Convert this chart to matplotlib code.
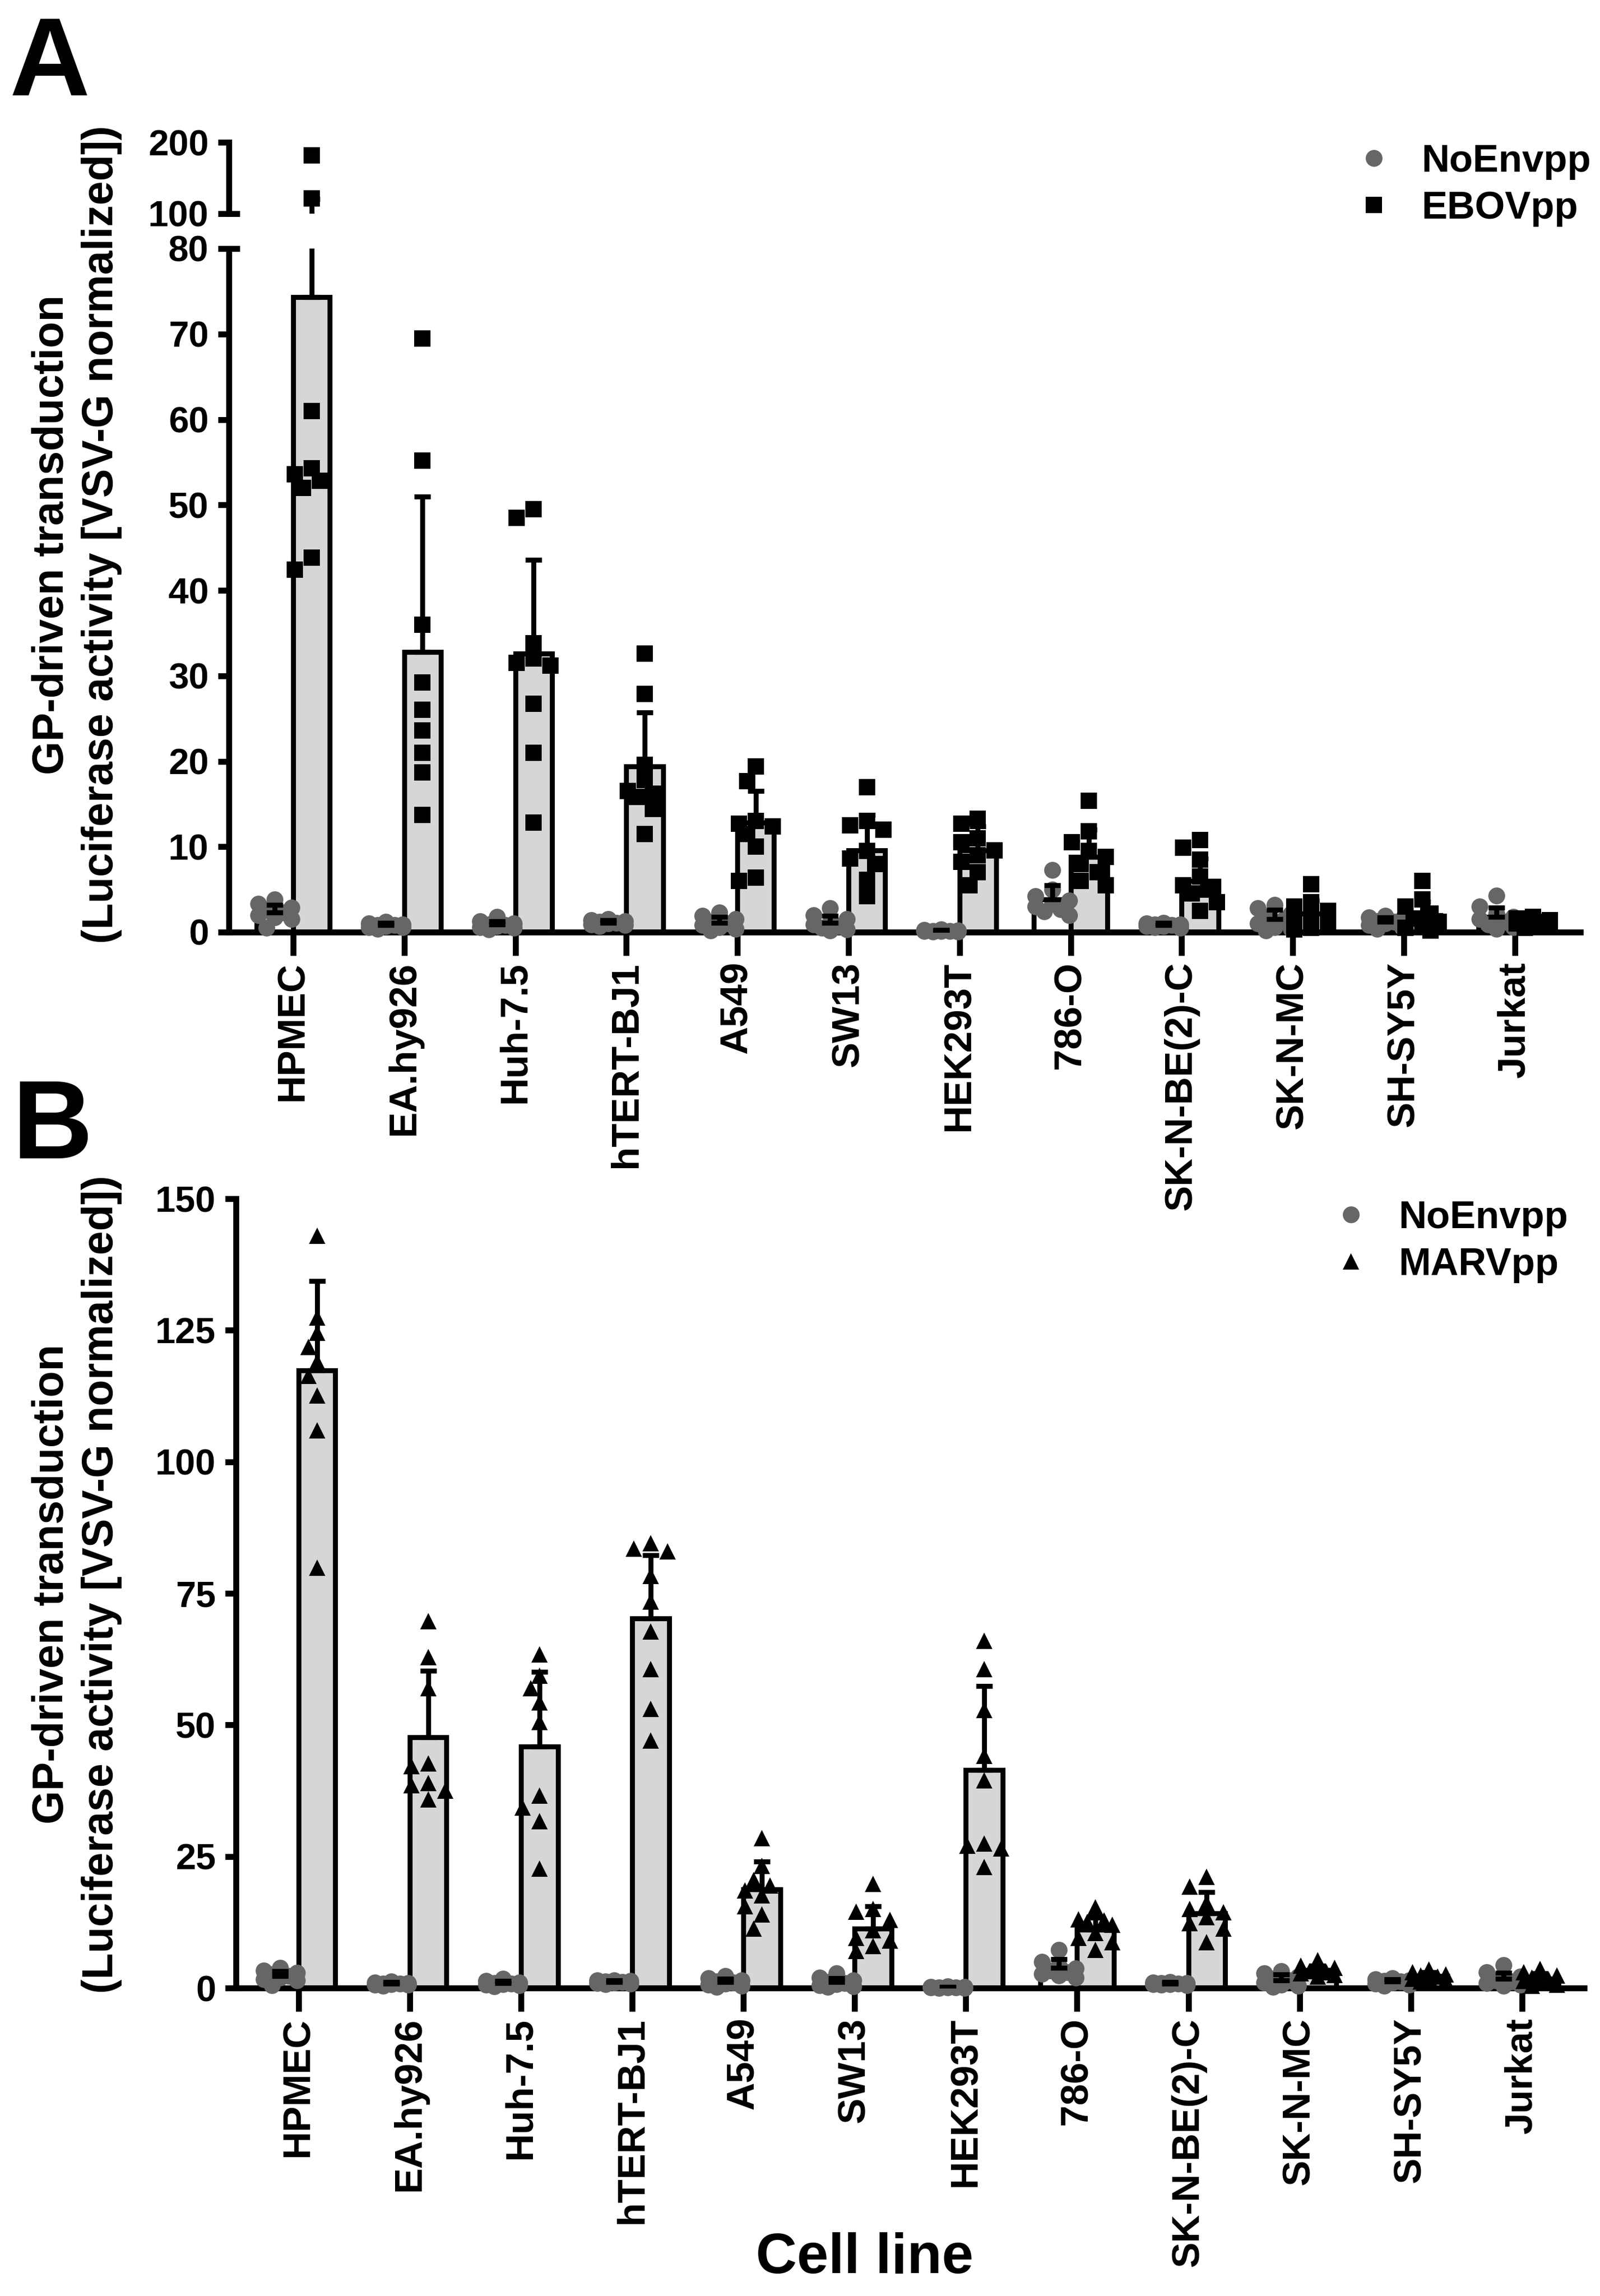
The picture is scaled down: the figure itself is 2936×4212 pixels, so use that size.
import numpy as np
import matplotlib
matplotlib.use("Agg")
import matplotlib.pyplot as plt
from matplotlib.lines import Line2D

plt.rcParams['font.family'] = ['Liberation Sans', 'DejaVu Sans']
plt.rcParams['font.weight'] = 'bold'

# ---------------- data ----------------
cells = ["HPMEC", "EA.hy926", "Huh-7.5", "hTERT-BJ1", "A549", "SW13", "HEK293T",
         "786-O", "SK-N-BE(2)-C", "SK-N-MC", "SH-SY5Y", "Jurkat"]

noenv_mean = [2.3, 0.8, 0.9, 1.1, 1.1, 1.1, 0.15, 3.8, 0.8, 1.5, 1.2, 1.8]
noenv_sd = [0.9, 0.3, 0.4, 0.3, 0.7, 0.8, 0.1, 1.7, 0.3, 1.1, 0.5, 1.1]
noenv_points = [
    [3.8, 3.3, 2.9, 2.6, 2.3, 2.0, 1.7, 1.5, 0.5],
    [1.2, 1.0, 0.9, 0.8, 0.8, 0.7, 0.6, 0.6, 0.4],
    [1.8, 1.3, 1.0, 0.9, 0.8, 0.7, 0.6, 0.5, 0.3],
    [1.5, 1.4, 1.3, 1.2, 1.1, 1.0, 0.9, 0.8, 0.7],
    [2.3, 1.9, 1.5, 1.2, 1.0, 0.8, 0.6, 0.4, 0.2],
    [2.8, 2.0, 1.5, 1.1, 0.9, 0.7, 0.5, 0.3, 0.2],
    [0.3, 0.25, 0.2, 0.15, 0.15, 0.1, 0.1, 0.05, 0.05],
    [7.3, 5.0, 4.2, 3.7, 3.3, 3.0, 2.7, 2.4, 2.0],
    [1.1, 1.0, 0.9, 0.9, 0.8, 0.7, 0.7, 0.6, 0.5],
    [3.2, 2.8, 2.2, 1.8, 1.4, 1.0, 0.6, 0.4, 0.2],
    [1.9, 1.7, 1.5, 1.3, 1.2, 1.0, 0.8, 0.6, 0.4],
    [4.3, 3.0, 2.2, 1.8, 1.5, 1.2, 0.9, 0.6, 0.4],
]

ebov_mean = [74.3, 32.8, 32.6, 19.4, 12.8, 9.6, 9.6, 8.8, 6.0, 2.2, 2.0, 1.3]
ebov_sd = [46.5, 18.2, 11.0, 6.3, 3.7, 4.1, 2.8, 3.2, 2.6, 1.5, 1.6, 0.5]
ebov_points = [
    [182.0, 121.0, 61.0, 54.3, 53.6, 52.8, 52.0, 43.8, 42.4],
    [69.5, 55.2, 36.0, 29.2, 26.0, 23.6, 21.0, 18.7, 13.7],
    [49.5, 48.5, 33.8, 32.0, 31.5, 31.2, 26.7, 21.0, 12.8],
    [32.6, 27.9, 19.6, 17.8, 16.5, 16.2, 15.8, 14.4, 11.5],
    [19.4, 17.7, 13.0, 12.7, 12.4, 11.5, 10.0, 6.4, 6.0],
    [17.0, 13.0, 12.5, 12.0, 9.5, 8.6, 8.0, 6.1, 4.2],
    [13.3, 12.7, 11.0, 10.5, 9.6, 9.0, 8.2, 7.0, 5.5],
    [15.4, 11.8, 10.5, 9.5, 8.8, 8.0, 7.0, 6.0, 5.5],
    [10.8, 9.9, 8.5, 6.5, 5.5, 5.0, 4.5, 3.5, 2.5],
    [5.6, 3.5, 3.0, 2.5, 2.0, 1.5, 1.0, 0.5, 0.3],
    [6.0, 3.8, 3.0, 2.2, 1.6, 1.2, 0.8, 0.5, 0.2],
    [1.8, 1.6, 1.4, 1.3, 1.2, 1.1, 1.0, 0.8, 0.5],
]

marv_mean = [117.4, 47.7, 45.9, 70.2, 18.7, 11.3, 41.4, 11.1, 14.2, 3.4, 2.3, 1.8]
marv_sd = [17.0, 12.6, 14.2, 12.0, 5.3, 4.2, 16.0, 2.3, 4.0, 0.8, 0.7, 1.0]
marv_points = [
    [143.0, 127.4, 124.5, 121.8, 119.0, 116.3, 112.6, 106.0, 79.9],
    [69.7, 62.9, 57.0, 42.7, 42.2, 39.0, 38.5, 37.5, 35.8],
    [63.4, 59.4, 57.0, 54.3, 50.6, 36.6, 34.3, 31.7, 22.7],
    [84.5, 83.5, 83.0, 78.3, 73.4, 67.8, 60.6, 53.0, 47.0],
    [28.5, 23.2, 20.5, 19.5, 18.5, 17.6, 15.5, 14.0, 11.3],
    [19.8, 15.0, 14.5, 13.0, 11.0, 9.5, 9.0, 8.0, 7.0],
    [66.0, 60.6, 52.8, 44.1, 39.5, 27.5, 27.0, 26.5, 23.0],
    [15.3, 13.1, 12.8, 12.5, 12.0, 10.5, 9.5, 8.7, 7.3],
    [21.1, 19.3, 16.2, 15.0, 14.4, 13.5, 12.3, 11.3, 8.7],
    [5.3, 4.2, 3.8, 3.5, 3.2, 3.0, 2.8, 2.5, 2.2],
    [3.5, 3.0, 2.6, 2.4, 2.2, 2.0, 1.8, 1.5, 1.2],
    [3.6, 3.0, 2.4, 2.0, 1.6, 1.3, 1.0, 0.6, 0.4],
]

# ---------------- style ----------------
W, H, DPI = 2936, 4212, 300
GREY_DOT = '#666666'
BAR_FILL = '#d6d6d6'
SPINE_LW = 2.6
BAR_LW = 2.2
MS = 7.4
MS_PX = MS / 72 * DPI
BW = 0.33

fig = plt.figure(figsize=(W / DPI, H / DPI), dpi=DPI)


def px_axes(left, top, right, bottom):
    return [left / W, 1 - bottom / H, (right - left) / W, (bottom - top) / H]


axA = fig.add_axes(px_axes(420, 456, 2900, 1710))
axAu = fig.add_axes(px_axes(420, 261, 2900, 392))
axB = fig.add_axes(px_axes(433, 2199, 2907, 3647))
for ax in (axA, axAu, axB):
    ax.patch.set_visible(False)

x = np.arange(len(cells))

axA.set_xlim(-0.579, 11.59)
axAu.set_xlim(-0.579, 11.59)
axA.set_ylim(0, 80)
axAu.set_ylim(100, 200)
axB.set_xlim(-0.564, 11.56)
axB.set_ylim(0, 150)


def value_to_px_A(v):
    if v <= 80:
        return axA.transData.transform((0, v))[1]
    return axAu.transData.transform((0, v))[1]


def value_to_px_B(v):
    return axB.transData.transform((0, v))[1]


def swarm(values, to_px, px_per_x):
    placed = []
    offs = []
    step = 0.5 * MS_PX
    cands = [0.0, -step, step, -2 * step, 2 * step]
    for v in values:
        y = to_px(v)
        chosen = None
        bestd, bestc = -1, 0.0
        for c in cands:
            d = min([np.hypot(c - p[0], y - p[1]) for p in placed], default=1e9)
            if d >= 0.9 * MS_PX:
                chosen = c
                break
            if d > bestd:
                bestd, bestc = d, c
        if chosen is None:
            chosen = bestc
        placed.append((chosen, y))
        offs.append(chosen / px_per_x)
    return offs


def px_per_xunit(ax):
    p0 = ax.transData.transform((0, 0))[0]
    p1 = ax.transData.transform((1, 0))[0]
    return p1 - p0


def draw_groups(axes_list, means, sds, pts, centers_off, marker, color, fill, to_px, split=None):
    base_ax = axes_list[0]
    ppx = px_per_xunit(base_ax)
    xs = x + centers_off
    for ax in axes_list:
        ax.bar(xs, means, width=BW, color=fill, edgecolor='black', linewidth=BAR_LW, zorder=2)
        ax.errorbar(xs, means, yerr=[np.zeros(len(means)), sds], fmt='none', ecolor='black',
                    elinewidth=BAR_LW, capsize=3.6, capthick=BAR_LW, zorder=5)
    for i, vals in enumerate(pts):
        offs = swarm(vals, to_px, ppx)
        for v, o in zip(vals, offs):
            if split is not None and v > split:
                target = axes_list[1]
            else:
                target = axes_list[0]
            target.plot(xs[i] + o, v, ls='none', marker=marker, color=color, markersize=MS,
                        markeredgewidth=0, zorder=4, clip_on=False)


# Panel A
draw_groups([axA, axAu], noenv_mean, noenv_sd, noenv_points, -BW / 2, 'o', GREY_DOT, 'white',
            value_to_px_A, split=80)
draw_groups([axA, axAu], ebov_mean, ebov_sd, ebov_points, BW / 2, 's', 'black', BAR_FILL,
            value_to_px_A, split=80)
# Panel B
draw_groups([axB], noenv_mean, noenv_sd, noenv_points, -BW / 2, 'o', GREY_DOT, 'white',
            value_to_px_B)
draw_groups([axB], marv_mean, marv_sd, marv_points, BW / 2, '^', 'black', BAR_FILL,
            value_to_px_B)


def style_axis(ax, yticks, show_x=True):
    for s in ['top', 'right']:
        ax.spines[s].set_visible(False)
    ax.spines['left'].set_linewidth(SPINE_LW)
    ax.spines['bottom'].set_linewidth(SPINE_LW)
    ax.set_yticks(yticks)
    ax.set_yticklabels([str(t) for t in yticks], fontsize=16, fontweight='bold')
    ax.tick_params(axis='y', length=4.8, width=SPINE_LW, pad=4)
    if show_x:
        ax.set_xticks(x)
        ax.set_xticklabels(cells, rotation=90, fontsize=17, fontweight='bold')
        ax.tick_params(axis='x', length=10.3, width=SPINE_LW, pad=2.6)
    else:
        ax.spines['bottom'].set_visible(False)
        ax.set_xticks([])


style_axis(axA, [0, 10, 20, 30, 40, 50, 60, 70, 80])
style_axis(axAu, [100, 200], show_x=False)
style_axis(axB, [0, 25, 50, 75, 100, 125, 150])

# broken-axis marks
for ax, yy in [(axA, 1.0), (axAu, 0.0)]:
    ax.plot([0, 0.008], [yy, yy], transform=ax.transAxes, color='black', lw=SPINE_LW,
            clip_on=False, solid_capstyle='butt')

# y labels
ylab = "GP-driven transduction\n(Luciferase activity [VSV-G normalized])"
fig.text(141 / W, 1 - 981 / H, ylab, rotation=90, ha='center', va='center',
         multialignment='center', fontsize=19, fontweight='bold', linespacing=1.26)
fig.text(141 / W, 0.310, ylab, rotation=90, ha='center', va='center',
         multialignment='center', fontsize=19, fontweight='bold', linespacing=1.26)

# x label
fig.text(1587 / W, 0.0100, "Cell line", ha='center', va='baseline', fontsize=25, fontweight='bold')

# panel letters
fig.text(0.006, 1 - 175 / H, "A", ha='left', va='baseline', fontsize=49, fontweight='bold')
fig.text(0.0075, 1 - 2125 / H, "B", ha='left', va='baseline', fontsize=49, fontweight='bold')


# legends
def make_legend(x0, y0, labels, markers, colors):
    handles = [Line2D([], [], ls='none', marker=m, color=c, markersize=MS, markeredgewidth=0)
               for m, c in zip(markers, colors)]
    fig.legend(handles, labels, loc='upper left', bbox_to_anchor=(x0, y0),
               bbox_transform=fig.transFigure, frameon=False, borderpad=0, borderaxespad=0,
               handlelength=1.0, handletextpad=0.72, labelspacing=0.28,
               prop={'size': 17, 'weight': 'bold'})


make_legend(2486 / W, 1 - 264 / H, ["NoEnvpp", "EBOVpp"], ['o', 's'], [GREY_DOT, 'black'])
make_legend(2444 / W, 1 - 2202 / H, ["NoEnvpp", "MARVpp"], ['o', '^'], [GREY_DOT, 'black'])

fig.savefig("out.png", dpi=DPI)
